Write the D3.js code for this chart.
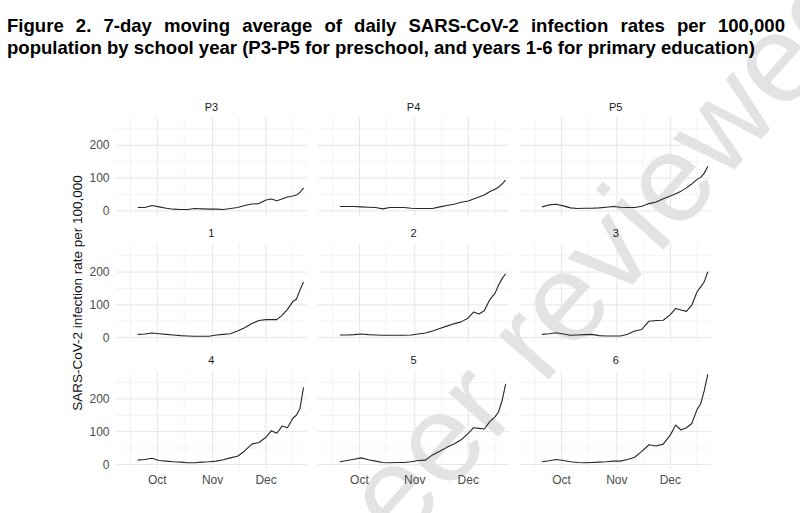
<!DOCTYPE html>
<html>
<head>
<meta charset="utf-8">
<script src="https://cdn.jsdelivr.net/npm/d3@7"></script>
<style>
  body { margin: 0; background: #fff; }
  svg { display: block; font-family: "Liberation Sans", Arial, sans-serif; }
</style>
</head>
<body>
<svg id="chart" width="800" height="513"></svg>
<script>
// sample dates (2021) shared by every panel
const dates = ['09-20','09-24','09-28','10-02','10-06','10-10','10-14','10-18','10-22','10-26','10-30',
  '11-03','11-07','11-11','11-15','11-19','11-23','11-27','12-01','12-04','12-07','12-10','12-13',
  '12-16','12-18','12-20','12-22'];

const panelLabels = ['P3', 'P4', 'P5', '1', '2', '3', '4', '5', '6'];

const rateP3 = [10,10,16,12,8,5,4,4,7,6,5,5,4,7,10,16,21,22,33,36,31,36,42,45,48,56,70];
const rateP4 = [13,13,13,12,11,10,6,10,10,10,8,7,7,7,12,16,20,26,30,36,42,48,58,66,72,82,94];
const rateP5 = [12,18,20,15,9,7,8,8,9,11,13,11,10,10,14,22,27,37,45,52,60,70,82,96,102,115,135];
const rate1 = [10,11,14,12,10,8,6,5,4,4,4,8,10,12,20,30,43,52,55,55,55,68,86,110,117,145,170];
const rate2 = [8,8,9,11,9,8,7,7,7,7,8,11,14,20,28,35,42,48,60,78,72,82,115,135,160,180,195];
const rate3 = [10,12,15,11,7,8,9,10,6,5,5,5,10,20,25,50,52,53,70,89,84,80,99,140,155,170,201];
const rate4 = [13,15,19,12,10,8,7,5,5,7,8,10,14,20,25,41,62,67,83,103,95,117,112,141,150,170,235];
const rate5 = [8,12,16,20,14,10,6,5,6,6,8,12,13,29,40,52,62,75,95,112,110,108,130,145,160,195,245];
const rate6 = [8,11,15,12,8,6,5,6,7,8,10,10,15,22,40,60,56,62,90,120,105,112,125,168,185,225,275];
const panelRates = [rateP3, rateP4, rateP5, rate1, rate2, rate3, rate4, rate5, rate6];

const yTicks = [0, 100, 200];
const yMinor = [50, 150, 250];
const xTickLabels = ['Oct', 'Nov', 'Dec'];
const xTicks = ['2021-10-01', '2021-11-01', '2021-12-01'];
const xMinor = ['2021-09-16', '2021-10-16', '2021-11-16', '2021-12-16'];

const titleLine1 = 'Figure 2. 7-day moving average of daily SARS-CoV-2 infection rates per 100,000';
const titleLine2 = 'population by school year (P3-P5 for preschool, and years 1-6 for primary education)';
const yTitle = 'SARS-CoV-2 infection rate per 100,000';

const parse = d3.timeParse('%Y-%m-%d');
const series = panelRates.map(vals => vals.map((v, i) => ({ date: parse('2021-' + dates[i]), v })));

const svg = d3.select('#chart');

// panel geometry
const panelW = 190.85, panelH = 98.3;
const left0 = 116, top0 = 117.1, colStep = 202.15, rowStep = 126.8;

const x = d3.scaleTime()
  .domain([new Date(2021, 8, 7, 20), new Date(2021, 11, 23, 21)])
  .range([0, panelW]);
const y = d3.scaleLinear().domain([-14, 286]).range([panelH, 0]);

const line = d3.line().x(d => x(d.date)).y(d => y(d.v));

const gridLayer = svg.append('g');
const markLayer = svg.append('g');
const lineLayer = svg.append('g');
const textLayer = svg.append('g');

panelLabels.forEach((lab, i) => {
  const col = i % 3, row = Math.floor(i / 3);
  const px = left0 + col * colStep, py = top0 + row * rowStep;

  const g = gridLayer.append('g').attr('transform', `translate(${px},${py})`);
  g.selectAll('.ymin').data(yMinor).enter().append('line')
    .attr('x1', 0).attr('x2', panelW)
    .attr('y1', d => y(d)).attr('y2', d => y(d))
    .attr('stroke', '#f0f0f0').attr('stroke-width', 0.8);
  g.selectAll('.xmin').data(xMinor).enter().append('line')
    .attr('y1', 0).attr('y2', panelH)
    .attr('x1', d => x(parse(d))).attr('x2', d => x(parse(d)))
    .attr('stroke', '#f0f0f0').attr('stroke-width', 0.8);
  g.selectAll('.ymaj').data(yTicks).enter().append('line')
    .attr('x1', 0).attr('x2', panelW)
    .attr('y1', d => y(d)).attr('y2', d => y(d))
    .attr('stroke', '#e6e6e6').attr('stroke-width', 1);
  g.selectAll('.xmaj').data(xTicks).enter().append('line')
    .attr('y1', 0).attr('y2', panelH)
    .attr('x1', d => x(parse(d))).attr('x2', d => x(parse(d)))
    .attr('stroke', '#e6e6e6').attr('stroke-width', 1);

  lineLayer.append('path')
    .attr('transform', `translate(${px},${py})`)
    .attr('d', line(series[i]))
    .attr('fill', 'none')
    .attr('stroke', '#262626')
    .attr('stroke-width', 1.1)
    .attr('stroke-linejoin', 'round');

  const t = textLayer.append('g').attr('transform', `translate(${px},${py})`);
  t.append('text')
    .attr('x', panelW / 2).attr('y', -6.5)
    .attr('text-anchor', 'middle')
    .attr('font-size', 11).attr('fill', '#1a1a1a')
    .text(lab);

  if (col === 0) {
    t.selectAll('.yl').data(yTicks).enter().append('text')
      .attr('x', -6.5).attr('y', d => y(d))
      .attr('dy', '0.35em')
      .attr('text-anchor', 'end')
      .attr('font-size', 12).attr('fill', '#4d4d4d')
      .text(d => d);
  }
  if (row === 2) {
    t.selectAll('.xl').data(xTicks).enter().append('text')
      .attr('x', d => x(parse(d))).attr('y', panelH + 15.5)
      .attr('text-anchor', 'middle')
      .attr('font-size', 12).attr('fill', '#4d4d4d')
      .text((d, k) => xTickLabels[k]);
  }
});

// y axis title
textLayer.append('text')
  .attr('transform', `translate(81.5,${top0 + (2 * rowStep + panelH) / 2}) rotate(-90)`)
  .attr('text-anchor', 'middle')
  .attr('font-size', 13.5).attr('fill', '#111')
  .text(yTitle);

// preprint watermark, placed so that "reviewed" starts at a fixed point
const wmAngle = 48.5;
const wmText = 'Not peer reviewed';
const wm = markLayer.append('text')
  .attr('font-size', 125).attr('fill', '#e3e3e3')
  .text('reviewed');
const wTail = wm.node().getComputedTextLength();
wm.text(wmText);
const w0 = wm.node().getComputedTextLength() - wTail;
const ang = wmAngle * Math.PI / 180;
const sx = 543 - w0 * Math.cos(ang), sy = 386 + w0 * Math.sin(ang);
wm.attr('transform', `translate(${sx},${sy}) rotate(${-wmAngle})`);

// title: second line left aligned, first line justified
const tg = svg.append('g').attr('font-weight', 'bold').attr('fill', '#000');
const t2 = tg.append('text').attr('x', 7).attr('y', 54).attr('font-size', 18).text(titleLine2);
let fs = 18;
for (let k = 0; k < 3; k++) {
  fs = fs * 748 / t2.node().getBBox().width;
  t2.attr('font-size', fs);
}

const t1 = tg.append('text').attr('x', 7).attr('y', 31.5).attr('font-size', fs).text(titleLine1);
const nSpaces = titleLine1.split(' ').length - 1;
let ws = 0;
for (let k = 0; k < 4; k++) {
  const wNow = t1.node().getBBox().width;
  ws += (778 - wNow) / nSpaces;
  t1.attr('word-spacing', ws);
}
</script>
</body>
</html>
